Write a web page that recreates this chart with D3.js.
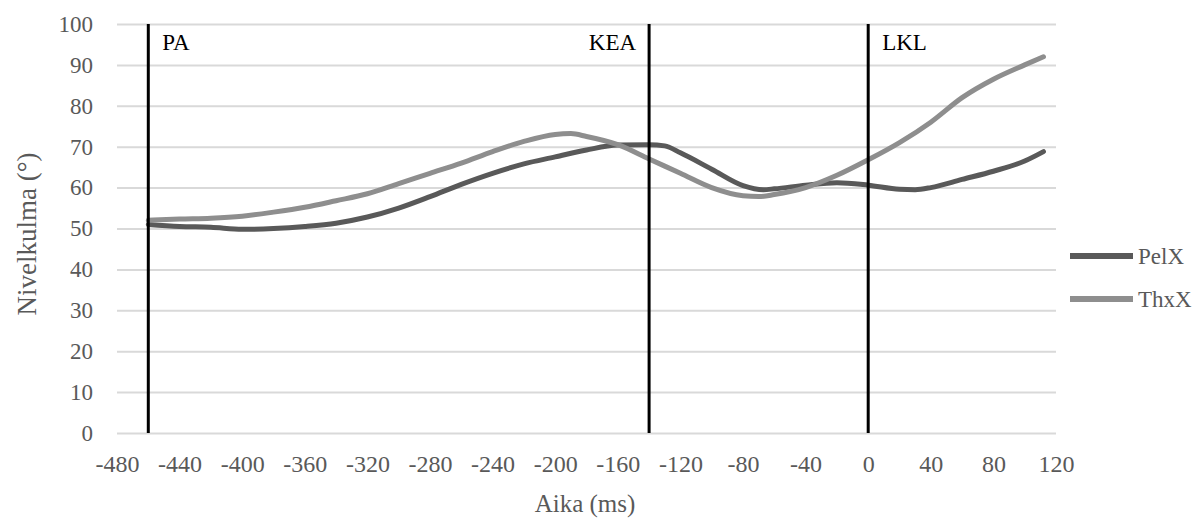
<!DOCTYPE html>
<html>
<head>
<meta charset="utf-8">
<script src="https://cdn.jsdelivr.net/npm/d3@7"></script>
<style>
    body { margin: 0; background: #fff; }
    svg text { font-family: "Liberation Serif", "Times New Roman", serif; }
</style>
</head>
<body>
<div id="plot"></div>
<script>
// Time points (ms) and angle values (degrees).
var pel_t = [-460, -440, -420, -400, -380, -360, -340, -320, -300, -280, -260, -240,
             -220, -200, -180, -160, -140, -130, -120, -100, -80, -67, -60, -40,
             -20, 0, 20, 30, 40, 60, 80, 100, 112];
var pel_v = [51, 50.5, 50.3, 49.8, 50, 50.5, 51.3, 52.8, 55, 57.8, 60.8, 63.5,
             65.8, 67.5, 69.2, 70.4, 70.5, 70.2, 68.5, 64.5, 60.5, 59.5, 59.7, 60.6,
             61.2, 60.6, 59.6, 59.5, 60, 62, 64, 66.5, 68.8];

var thx_t = [-460, -440, -420, -400, -380, -360, -340, -320, -300, -280, -260, -240,
             -220, -200, -190, -180, -160, -140, -120, -100, -80, -70, -60, -40,
             -20, 0, 20, 40, 60, 80, 100, 112];
var thx_v = [52, 52.3, 52.5, 53, 54, 55.2, 56.8, 58.5, 61, 63.5, 66, 68.8,
             71.3, 73, 73.2, 72.5, 70.5, 67, 63.5, 60, 58, 57.8, 58.3, 60,
             63, 66.8, 71, 76, 82, 86.5, 90, 92];

var series_names = ["PelX", "ThxX"];
var series_colors = ["#595959", "#8e8e8e"];

var event_names = ["PA", "KEA", "LKL"];
var event_times = [-460, -140, 0];

var x_ticks = d3.range(-480, 121, 40);
var y_ticks = d3.range(0, 101, 10);

var width = 1200, height = 520;
var m_left = 117, m_right = 1056, m_top = 24, m_bottom = 433;

var svg = d3.select("div#plot")
    .append("svg")
        .attr("width", width)
        .attr("height", height);

var x_scale = d3.scaleLinear().domain([-480, 120]).range([m_left, m_right]);
var y_scale = d3.scaleLinear().domain([0, 100]).range([m_bottom, m_top]);

// plain hyphen minus like the original
var fmt = function(d) { return String(d); };

// Horizontal grid lines
svg.append("g")
    .attr("transform", "translate(" + m_left + ",0)")
    .call(d3.axisLeft(y_scale).tickValues(y_ticks).tickSize(-(m_right - m_left)).tickFormat(""))
    .call(function(g) {
        g.select(".domain").remove();
        g.selectAll("line").attr("stroke", "#d9d9d9").attr("stroke-width", 2);
    });

// Y tick labels
svg.append("g")
    .attr("transform", "translate(" + (m_left - 24) + ",0)")
    .call(d3.axisLeft(y_scale).tickValues(y_ticks).tickSize(0).tickPadding(0).tickFormat(fmt))
    .call(function(g) {
        g.select(".domain").remove();
        g.selectAll("text")
            .attr("fill", "#595959")
            .style("font-size", "23px")
            .style("font-family", "'Liberation Serif', serif");
    });

// X tick labels
svg.append("g")
    .attr("transform", "translate(0," + (m_bottom + 22) + ")")
    .call(d3.axisBottom(x_scale).tickValues(x_ticks).tickSize(0).tickPadding(0).tickFormat(fmt))
    .call(function(g) {
        g.select(".domain").remove();
        g.selectAll("text")
            .attr("fill", "#595959")
            .style("font-size", "24px")
            .style("font-family", "'Liberation Serif', serif");
    });

// Axis titles
svg.append("text")
    .attr("x", 585).attr("y", 512)
    .attr("text-anchor", "middle")
    .attr("fill", "#595959")
    .style("font-size", "25px")
    .text("Aika (ms)");

svg.append("text")
    .attr("transform", "translate(36,234) rotate(-90)")
    .attr("text-anchor", "middle")
    .attr("fill", "#595959")
    .style("font-size", "27px")
    .text("Nivelkulma (°)");

// Data lines
var line = d3.line()
    .x(function(d) { return x_scale(d[0]); })
    .y(function(d) { return y_scale(d[1]); })
    .curve(d3.curveMonotoneX);

var series_data = [d3.zip(pel_t, pel_v), d3.zip(thx_t, thx_v)];

svg.append("g")
    .selectAll("path")
    .data(series_data)
    .join("path")
        .attr("fill", "none")
        .attr("stroke", function(d, i) { return series_colors[i]; })
        .attr("stroke-width", 5)
        .attr("stroke-linejoin", "round")
        .attr("stroke-linecap", "round")
        .attr("d", line);

// Event lines with labels
var ev = svg.append("g")
    .selectAll("g")
    .data(d3.zip(event_names, event_times))
    .join("g");

ev.append("line")
    .attr("x1", function(d) { return x_scale(d[1]); })
    .attr("x2", function(d) { return x_scale(d[1]); })
    .attr("y1", y_scale(100))
    .attr("y2", y_scale(0))
    .attr("stroke", "#000")
    .attr("stroke-width", 3);

ev.append("text")
    .attr("x", function(d) { return d[0] == "KEA" ? x_scale(d[1]) - 13 : x_scale(d[1]) + 14; })
    .attr("y", 50)
    .attr("text-anchor", function(d) { return d[0] == "KEA" ? "end" : "start"; })
    .attr("fill", "#000")
    .style("font-size", "23px")
    .text(function(d) { return d[0]; });

// Legend
var legend = svg.append("g")
    .selectAll("g")
    .data(series_names)
    .join("g")
        .attr("transform", function(d, i) { return "translate(1070," + (256 + i * 43) + ")"; });

legend.append("line")
    .attr("x1", 0).attr("x2", 63)
    .attr("stroke", function(d, i) { return series_colors[i]; })
    .attr("stroke-width", 6);

legend.append("text")
    .attr("x", 68).attr("y", 8)
    .attr("fill", "#595959")
    .style("font-size", "23px")
    .text(function(d) { return d; });
</script>
</body>
</html>
